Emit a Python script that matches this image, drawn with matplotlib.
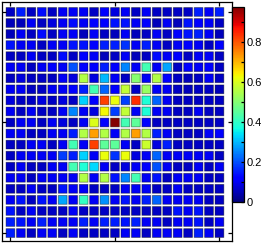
import numpy as np
import matplotlib
matplotlib.use("Agg")
import matplotlib.pyplot as plt

# 21 x 21 grid of values, row 0 at the top
values = [
    [0.06, 0.15, 0.06, 0.13, 0.06, 0.10, 0.10, 0.10, 0.06, 0.12, 0.08, 0.10, 0.06, 0.10, 0.06, 0.06, 0.06, 0.06, 0.15, 0.10, 0.15],
    [0.05, 0.05, 0.10, 0.06, 0.08, 0.10, 0.13, 0.10, 0.12, 0.12, 0.14, 0.14, 0.10, 0.12, 0.05, 0.10, 0.05, 0.14, 0.12, 0.10, 0.06],
    [0.05, 0.10, 0.06, 0.13, 0.06, 0.10, 0.10, 0.05, 0.10, 0.06, 0.05, 0.10, 0.05, 0.06, 0.10, 0.06, 0.12, 0.14, 0.15, 0.10, 0.05],
    [0.14, 0.10, 0.10, 0.06, 0.10, 0.10, 0.14, 0.14, 0.12, 0.15, 0.15, 0.17, 0.10, 0.15, 0.10, 0.06, 0.10, 0.12, 0.10, 0.06, 0.12],
    [0.06, 0.06, 0.10, 0.06, 0.06, 0.13, 0.06, 0.12, 0.10, 0.05, 0.06, 0.10, 0.05, 0.06, 0.13, 0.10, 0.12, 0.06, 0.10, 0.10, 0.06],
    [0.10, 0.10, 0.06, 0.10, 0.12, 0.10, 0.20, 0.12, 0.12, 0.15, 0.12, 0.25, 0.10, 0.42, 0.10, 0.28, 0.06, 0.12, 0.10, 0.12, 0.06],
    [0.06, 0.08, 0.06, 0.06, 0.06, 0.10, 0.08, 0.55, 0.08, 0.30, 0.10, 0.06, 0.50, 0.10, 0.55, 0.12, 0.06, 0.05, 0.06, 0.10, 0.06],
    [0.10, 0.10, 0.06, 0.06, 0.10, 0.10, 0.12, 0.15, 0.42, 0.22, 0.12, 0.57, 0.06, 0.52, 0.10, 0.10, 0.06, 0.05, 0.06, 0.06, 0.05],
    [0.08, 0.06, 0.06, 0.08, 0.06, 0.08, 0.06, 0.32, 0.12, 0.82, 0.62, 0.18, 0.84, 0.38, 0.22, 0.10, 0.06, 0.06, 0.06, 0.06, 0.06],
    [0.10, 0.06, 0.10, 0.06, 0.06, 0.10, 0.25, 0.10, 0.08, 0.63, 0.18, 0.57, 0.10, 0.38, 0.10, 0.10, 0.06, 0.06, 0.10, 0.06, 0.06],
    [0.06, 0.10, 0.10, 0.06, 0.10, 0.08, 0.06, 0.10, 0.60, 0.12, 0.97, 0.42, 0.45, 0.12, 0.06, 0.06, 0.06, 0.06, 0.06, 0.06, 0.06],
    [0.10, 0.10, 0.06, 0.06, 0.10, 0.10, 0.15, 0.55, 0.72, 0.55, 0.10, 0.55, 0.72, 0.55, 0.15, 0.10, 0.06, 0.06, 0.06, 0.10, 0.12],
    [0.06, 0.06, 0.10, 0.10, 0.06, 0.10, 0.42, 0.10, 0.82, 0.45, 0.45, 0.10, 0.06, 0.58, 0.08, 0.15, 0.06, 0.06, 0.06, 0.06, 0.06],
    [0.06, 0.10, 0.10, 0.10, 0.10, 0.18, 0.15, 0.32, 0.10, 0.62, 0.17, 0.62, 0.08, 0.10, 0.22, 0.10, 0.10, 0.10, 0.10, 0.10, 0.06],
    [0.06, 0.10, 0.06, 0.06, 0.10, 0.10, 0.42, 0.38, 0.33, 0.10, 0.06, 0.08, 0.10, 0.12, 0.20, 0.10, 0.06, 0.06, 0.10, 0.06, 0.10],
    [0.10, 0.10, 0.06, 0.10, 0.10, 0.10, 0.10, 0.55, 0.10, 0.55, 0.14, 0.25, 0.42, 0.10, 0.14, 0.06, 0.10, 0.10, 0.10, 0.06, 0.06],
    [0.06, 0.06, 0.10, 0.06, 0.06, 0.14, 0.10, 0.10, 0.06, 0.06, 0.06, 0.10, 0.10, 0.10, 0.06, 0.06, 0.10, 0.06, 0.06, 0.06, 0.06],
    [0.10, 0.14, 0.06, 0.14, 0.10, 0.28, 0.10, 0.40, 0.10, 0.26, 0.10, 0.14, 0.10, 0.15, 0.22, 0.10, 0.10, 0.10, 0.10, 0.06, 0.06],
    [0.14, 0.06, 0.10, 0.06, 0.06, 0.06, 0.10, 0.06, 0.06, 0.06, 0.06, 0.06, 0.06, 0.06, 0.06, 0.06, 0.14, 0.10, 0.14, 0.06, 0.06],
    [0.15, 0.14, 0.10, 0.15, 0.10, 0.10, 0.10, 0.15, 0.10, 0.15, 0.15, 0.14, 0.15, 0.10, 0.10, 0.06, 0.10, 0.10, 0.14, 0.06, 0.10],
    [0.15, 0.10, 0.06, 0.10, 0.10, 0.06, 0.10, 0.06, 0.06, 0.06, 0.06, 0.10, 0.10, 0.06, 0.10, 0.10, 0.10, 0.06, 0.15, 0.10, 0.06],
]
grid_ticks = [1, 11, 21]
cbar_ticks = [0, 0.2, 0.4, 0.6, 0.8]
cbar_minor = [0.1, 0.3, 0.5, 0.7, 0.9]
vmax = 0.975

plt.rcParams["font.family"] = ["Liberation Sans", "DejaVu Sans"]

data = np.array(values)
n_rows, n_cols = data.shape
cols, rows = np.meshgrid(np.arange(1, n_cols + 1), np.arange(1, n_rows + 1))

fig = plt.figure(figsize=(2.65, 2.46), dpi=100)
ax = fig.add_axes([0.0075, 0.0203, 0.8679, 0.9716])

sc = ax.scatter(cols.ravel(), rows.ravel(), c=data.ravel(), cmap="jet",
                vmin=0, vmax=vmax, marker="s", s=40,
                edgecolors=(0, 0, 0, 0.45), linewidths=0.6)
sc.set_snap(False)

ax.set_xlim(0.19, 22.2)
ax.set_ylim(21.72, 0.1)
ax.set_xticks(grid_ticks)
ax.set_yticks(grid_ticks)
ax.tick_params(direction="in", length=3, width=0.9, top=True, right=True,
               labelbottom=False, labelleft=False)
for sp in ax.spines.values():
    sp.set_linewidth(0.9)

cax = fig.add_axes([0.877, 0.180, 0.0453, 0.793])
cb = fig.colorbar(sc, cax=cax)
cb.set_ticks(cbar_ticks)
cb.set_ticklabels(["0", "0.2", "0.4", "0.6", "0.8"])
cax.set_yticks(cbar_minor, minor=True)
cax.tick_params(which="both", direction="in", length=2, width=0.9,
                labelsize=8, pad=1.5)
cb.outline.set_linewidth(0.9)

fig.savefig("out.png", dpi=100)
